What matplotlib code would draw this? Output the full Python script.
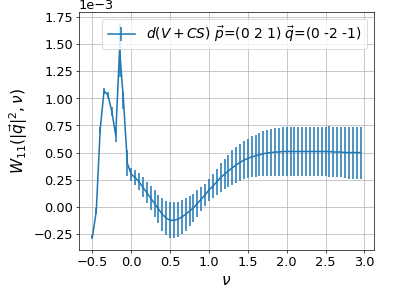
import matplotlib
matplotlib.use("Agg")
import matplotlib.pyplot as plt

# nu values
nu = [-0.5, -0.45, -0.4, -0.35, -0.3, -0.25, -0.2, -0.15, -0.1, -0.05,
      0.0, 0.05, 0.1, 0.15, 0.2, 0.25, 0.3, 0.35, 0.4, 0.45,
      0.5, 0.55, 0.6, 0.65, 0.7, 0.75, 0.8, 0.85, 0.9, 0.95,
      1.0, 1.05, 1.1, 1.15, 1.2, 1.25, 1.3, 1.35, 1.4, 1.45,
      1.5, 1.55, 1.6, 1.65, 1.7, 1.75, 1.8, 1.85, 1.9, 1.95,
      2.0, 2.05, 2.1, 2.15, 2.2, 2.25, 2.3, 2.35, 2.4, 2.45,
      2.5, 2.55, 2.6, 2.65, 2.7, 2.75, 2.8, 2.85, 2.9, 2.95]

# W11 in units of 1e-3
w11 = [-0.28, -0.04, 0.71, 1.07, 1.03, 0.88, 0.66, 1.45, 0.98, 0.40,
       0.30, 0.27, 0.23, 0.18, 0.13, 0.08, 0.03, -0.02, -0.07, -0.105,
       -0.125, -0.125, -0.115, -0.095, -0.07, -0.04, -0.01, 0.03, 0.07, 0.11,
       0.155, 0.19, 0.23, 0.27, 0.30, 0.33, 0.36, 0.385, 0.41, 0.43,
       0.445, 0.46, 0.47, 0.48, 0.49, 0.495, 0.50, 0.505, 0.505, 0.51,
       0.51, 0.51, 0.51, 0.51, 0.51, 0.51, 0.51, 0.51, 0.51, 0.51,
       0.51, 0.51, 0.505, 0.505, 0.505, 0.50, 0.50, 0.50, 0.50, 0.50]

w11_err = [0.02, 0.03, 0.03, 0.03, 0.03, 0.04, 0.06, 0.25, 0.08, 0.12,
           0.06, 0.07, 0.08, 0.09, 0.10, 0.11, 0.12, 0.13, 0.15, 0.16,
           0.165, 0.165, 0.16, 0.155, 0.15, 0.14, 0.13, 0.12, 0.11, 0.10,
           0.10, 0.11, 0.12, 0.13, 0.14, 0.15, 0.16, 0.165, 0.17, 0.175,
           0.18, 0.19, 0.195, 0.20, 0.205, 0.21, 0.215, 0.22, 0.22, 0.225,
           0.225, 0.23, 0.23, 0.23, 0.23, 0.23, 0.23, 0.23, 0.23, 0.23,
           0.23, 0.235, 0.235, 0.235, 0.235, 0.235, 0.24, 0.24, 0.24, 0.24]

label = r"$d(V+CS)$ $\vec{p}$=(0 2 1) $\vec{q}$=(0 -2 -1)"

plt.rcParams["font.size"] = 15

fig = plt.figure(figsize=(6.4, 4.8), dpi=61.7)
ax = fig.add_subplot(1, 1, 1)
fig.subplots_adjust(left=0.20, right=0.947, bottom=0.155, top=0.96)

ax.errorbar(nu, [v * 1e-3 for v in w11], yerr=[e * 1e-3 for e in w11_err],
            label=label, linewidth=1.8)

ax.set_xlabel(r"$\nu$", fontsize=18)
ax.set_ylabel(r"$W_{11}(|\vec{q}|^2, \nu)$", fontsize=18)
ax.set_xticks([-0.5, 0.0, 0.5, 1.0, 1.5, 2.0, 2.5, 3.0])
ax.ticklabel_format(axis="y", style="sci", scilimits=(0, 0))
ax.grid(True)
ax.legend(loc="upper right", fontsize=16)

fig.savefig("out.png", dpi=61.7)
